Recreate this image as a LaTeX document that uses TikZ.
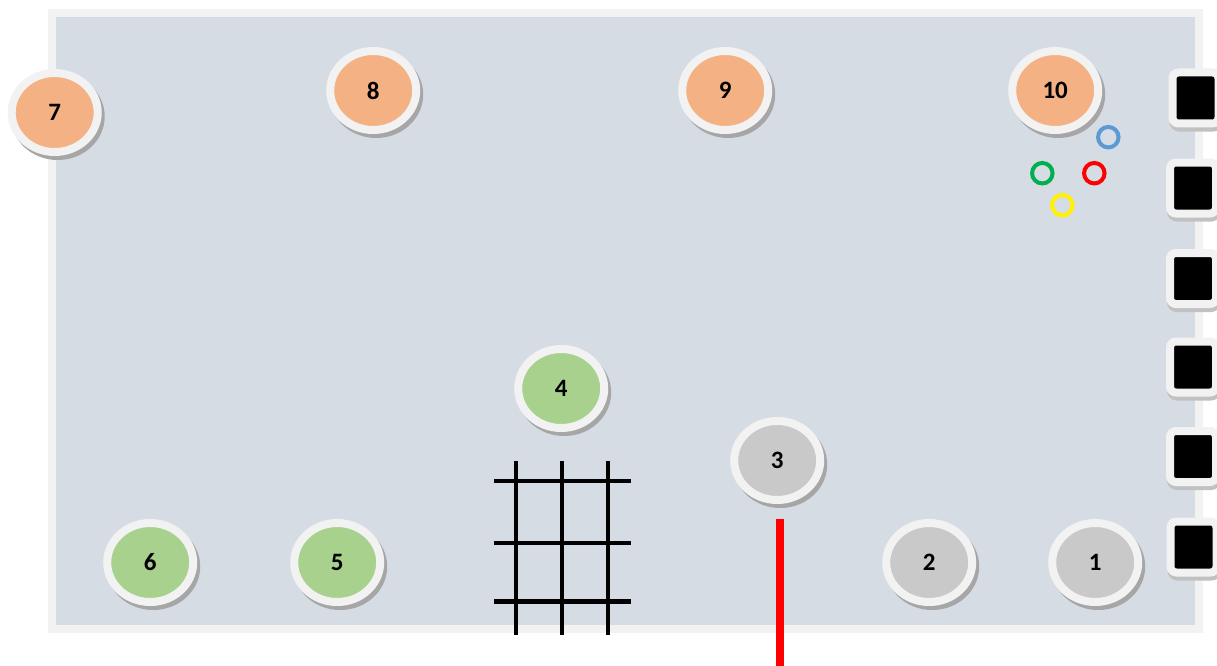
\documentclass[tikz,border=0pt]{standalone}
\usepackage{fontspec}
\setmainfont{Carlito}
\usetikzlibrary{shapes.geometric,shadows}
\definecolor{panel}{HTML}{D6DCE4}
\definecolor{rim}{HTML}{F2F2F2}
\definecolor{shade}{HTML}{A6A6A6}
\definecolor{orangefill}{HTML}{F4B183}
\definecolor{greenfill}{HTML}{A9D18E}
\definecolor{greyfill}{HTML}{C9C9C9}
\tikzset{
  disc/.style={ellipse,draw=rim,line width=8pt,minimum width=86pt,minimum height=79pt,inner sep=0pt,
    font=\fontsize{25}{25}\selectfont\bfseries,text=black,
    copy shadow={shadow xshift=3pt,shadow yshift=-4pt,draw=shade,fill=shade,opacity=1}},
  orangedisc/.style={disc,fill=orangefill},
  greendisc/.style={disc,fill=greenfill},
  greydisc/.style={disc,fill=greyfill},
  blackbox/.style={rectangle,draw=rim,fill=black,line width=8pt,minimum width=46pt,minimum height=51pt,
    inner sep=0pt,rounded corners=6pt,
    copy shadow={shadow xshift=1pt,shadow yshift=-4pt,draw=shade!70,fill=shade!70,opacity=1}},
  ring/.style={circle,draw,line width=4pt,minimum size=20.5pt,inner sep=0pt},
  gridline/.style={draw=black,line width=4.5pt},
}
\begin{document}
\begin{tikzpicture}[x=1pt,y=-1pt]
\useasboundingbox (0,0) rectangle (1217,666);
\fill[white] (0,0) rectangle (1217,666);
\draw[draw=rim,fill=panel,line width=8pt] (52,13) rectangle (1199,629);
% grid
\foreach \x/\n in {516/a,562/b,608/c}{
  \coordinate (v\n t) at (\x,461);
  \coordinate (v\n b) at (\x,635);
  \draw[gridline] (v\n t) -- (v\n b);
}
\foreach \y/\n in {481/a,543/b,601.5/c}{
  \coordinate (h\n l) at (494,\y);
  \coordinate (h\n r) at (631,\y);
  \draw[gridline] (h\n l) -- (h\n r);
}
% red bar
\coordinate (redtop) at (780,519);
\coordinate (redend) at (780,666);
\draw[red,line width=8pt] (redtop) -- (redend);
% black boxes
\node[blackbox] (s1) at (1195.5,98) {};
\node[blackbox] (s2) at (1193,188) {};
\node[blackbox] (s3) at (1193,278.5) {};
\node[blackbox] (s4) at (1193,367) {};
\node[blackbox] (s5) at (1193,456.5) {};
\node[blackbox] (s6) at (1193.5,547) {};
% discs
\node[orangedisc] (n7) at (54.7,112.5) {7};
\node[orangedisc] (n8) at (373.2,90.5) {8};
\node[orangedisc] (n9) at (725.2,90.5) {9};
\node[orangedisc] (n10) at (1055.2,90.5) {10};
\node[greendisc] (n4) at (561.2,388.5) {4};
\node[greendisc] (n5) at (337.2,562.5) {5};
\node[greendisc] (n6) at (150.2,562.5) {6};
\node[greydisc] (n3) at (777.2,460.5) {3};
\node[greydisc] (n2) at (929.2,562.5) {2};
\node[greydisc] (n1) at (1095.2,562.5) {1};
% rings
\node[ring,draw={rgb,255:red,91;green,155;blue,213}] (rb) at (1108.3,137.2) {};
\node[ring,draw={rgb,255:red,0;green,176;blue,80}] (rg) at (1042.3,173.2) {};
\node[ring,draw=red] (rr) at (1094.3,173.2) {};
\node[ring,draw=yellow] (ry) at (1062.3,205.2) {};
\end{tikzpicture}
\end{document}
